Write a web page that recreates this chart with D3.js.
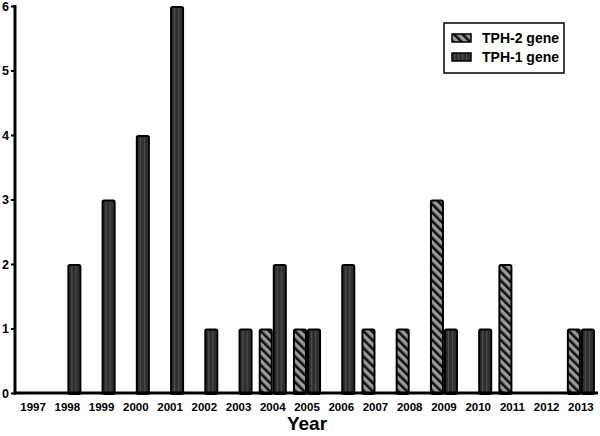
<!DOCTYPE html>
<html>
<head>
<meta charset="utf-8">
<script src="https://cdn.jsdelivr.net/npm/d3@7"></script>
<style>
  body { margin: 0; background: #fff; }
  text { font-family: Arial, "Liberation Sans", sans-serif; }
</style>
</head>
<body>
<script>
// data
var years = ['1997','1998','1999','2000','2001','2002','2003','2004','2005',
             '2006','2007','2008','2009','2010','2011','2012','2013']
var tph2 = [0,0,0,0,0,0,0,1,1,0,1,1,3,0,2,0,1]
var tph1 = [0,2,3,4,6,1,1,2,1,2,0,0,1,1,0,0,1]
var seriesNames = ['TPH-2 gene', 'TPH-1 gene']
var yTicks = [0,1,2,3,4,5,6]

var width = 600, height = 436
var margin = {top: 6, right: 2, bottom: 43, left: 15}

var svg = d3.select('body').append('svg')
  .attr('width', width)
  .attr('height', height)

// _____________ patterns
var defs = svg.append('defs')
var hatch = defs.append('pattern')
  .attr('id', 'hatch')
  .attr('patternUnits', 'userSpaceOnUse')
  .attr('width', 6).attr('height', 6)
  .attr('patternTransform', 'rotate(-45)')
hatch.append('rect').attr('width', 6).attr('height', 6).attr('fill', '#9a9a9a')
hatch.append('rect').attr('width', 2.6).attr('height', 6).attr('fill', '#111')

var stripes = defs.append('pattern')
  .attr('id', 'stripes')
  .attr('patternUnits', 'userSpaceOnUse')
  .attr('width', 4).attr('height', 4)
stripes.append('rect').attr('width', 4).attr('height', 4).attr('fill', '#2e2e2e')
stripes.append('rect').attr('x', 2).attr('width', 1.2).attr('height', 4).attr('fill', '#4e4e4e')

var fills = ['url(#hatch)', 'url(#stripes)']

// _____________ scales
var x = d3.scaleBand()
  .domain(years)
  .range([margin.left + 1, width - margin.right])
  .paddingInner(0.18)
  .paddingOuter(0.09)

var xInner = d3.scaleBand()
  .domain([0, 1])
  .range([0, x.bandwidth()])

var y = d3.scaleLinear()
  .domain([0, 6])
  .range([height - margin.bottom, margin.top])

// _____________ bars
var rows = years.map(function (d, i) { return {year: d, vals: [tph2[i], tph1[i]]} })

var groups = svg.append('g').selectAll('g.year')
  .data(rows)
  .enter().append('g')
    .attr('class', 'year')
    .attr('transform', function (d) { return 'translate(' + x(d.year) + ',0)' })

groups.selectAll('rect')
  .data(function (d) { return d.vals.map(function (v, k) { return {k: k, v: v} }) })
  .enter().filter(function (d) { return d.v > 0 })
  .append('rect')
    .attr('x', function (d) { return xInner(d.k) + 1 })
    .attr('y', function (d) { return y(d.v) + 1 })
    .attr('width', xInner.bandwidth() - 2)
    .attr('height', function (d) { return y(0) - y(d.v) })
    .attr('rx', 1.5)
    .attr('fill', function (d) { return fills[d.k] })
    .attr('stroke', '#000')
    .attr('stroke-width', 2)

// _____________ axes
var yAxis = svg.append('g')
  .attr('transform', 'translate(' + margin.left + ',0)')
  .call(d3.axisLeft(y).tickValues(yTicks).tickSize(4).tickPadding(2).tickFormat(d3.format('d')))
yAxis.select('.domain').attr('stroke-width', 3).attr('d', 'M0,' + (margin.top - 1) + 'V' + (y(0) + 1.5))
yAxis.selectAll('.tick line').attr('stroke-width', 2)
yAxis.selectAll('.tick text')
  .style('font-size', '12.5px').style('font-weight', 'bold').attr('fill', '#000')

var xAxis = svg.append('g')
  .attr('transform', 'translate(0,' + y(0) + ')')
  .call(d3.axisBottom(x).tickSize(0).tickPadding(10))
xAxis.select('.domain').attr('stroke-width', 3).attr('d', 'M' + (margin.left - 1.5) + ',0H' + (width - margin.right))
xAxis.selectAll('.tick text')
  .style('font-size', '11.5px').style('font-weight', 'bold').attr('fill', '#000')

svg.append('text')
  .attr('x', 307)
  .attr('y', 430)
  .attr('text-anchor', 'middle')
  .style('font-size', '19px').style('font-weight', 'bold')
  .text('Year')

// _____________ legend
var legend = svg.append('g').attr('transform', 'translate(444,23)')
legend.append('rect')
  .attr('width', 120).attr('height', 50)
  .attr('fill', '#fff').attr('stroke', '#000').attr('stroke-width', 1.5)

var items = legend.selectAll('g.item')
  .data(seriesNames)
  .enter().append('g')
    .attr('class', 'item')
    .attr('transform', function (d, i) { return 'translate(8,' + (11 + i * 19) + ')' })
items.append('rect')
  .attr('width', 19).attr('height', 8)
  .attr('fill', function (d, i) { return fills[i] })
  .attr('stroke', '#000').attr('stroke-width', 1.5)
items.append('text')
  .attr('x', 30).attr('y', 8.5)
  .style('font-size', '14px').style('font-weight', 'bold')
  .text(function (d) { return d })
</script>
</body>
</html>
